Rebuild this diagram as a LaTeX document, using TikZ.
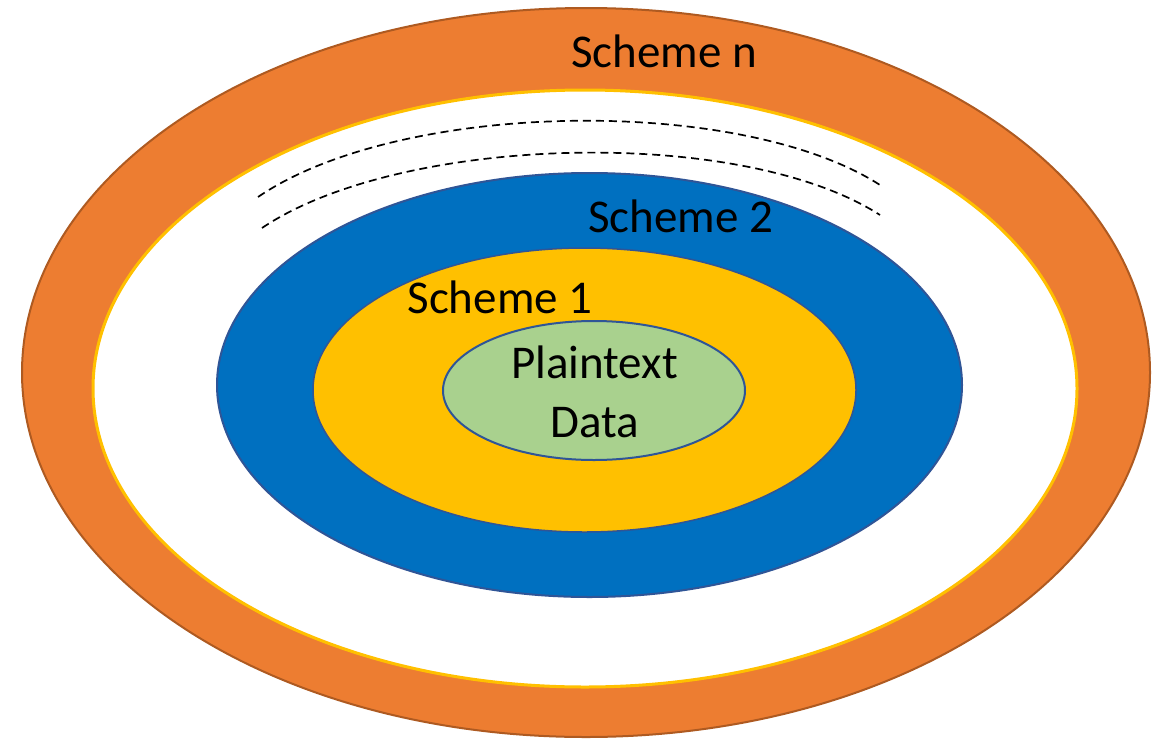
\documentclass[tikz,border=0pt]{standalone}
\usepackage{fontspec}
\setmainfont{Carlito}
\definecolor{ringorange}{HTML}{ED7D31}
\definecolor{ringedge}{HTML}{AE5A21}
\definecolor{ringgold}{HTML}{FFC000}
\definecolor{ringblue}{HTML}{0070C0}
\definecolor{ringnavy}{HTML}{2F5597}
\definecolor{ringgreen}{HTML}{A9D18E}
\begin{document}
\begin{tikzpicture}[x=1pt,y=-1pt]
\tikzstyle{every node}+=[inner sep=0pt, font=\fontsize{47}{59}\selectfont]
\tikzstyle{ringtext}=[anchor=base, text=black]
\tikzstyle{layer}=[dashed, dash pattern=on 8pt off 5pt, line width=1.7pt]
\useasboundingbox (0,0) rectangle (1153,739);
\draw [ringedge, fill=ringorange, line width=2pt] (586,372.5) ellipse (564pt and 364.5pt);
\draw [ringgold, fill=white, line width=3pt] (585,388.5) ellipse (492pt and 298.5pt);
\draw [layer] (258,197) .. controls (400,100) and (740,95) .. (880,185);
\draw [layer] (262,228) .. controls (400,135) and (740,125) .. (880,215);
\draw [ringnavy, fill=ringblue, line width=2pt] (589.5,385) ellipse (372.5pt and 212pt);
\draw [ringnavy, fill=ringgold, line width=1.5pt] (584.5,390) ellipse (271.5pt and 142pt);
\draw [ringnavy, fill=ringgreen, line width=2pt] (594,390.5) ellipse (151pt and 69.5pt);
\node [ringtext] (schemen) at (664,67) {Scheme n};
\node [ringtext] (scheme2) at (680.5,232) {Scheme 2};
\node [ringtext] (scheme1) at (500,313) {Scheme 1};
\node [ringtext] (plaintext) at (594.5,378) {Plaintext};
\node [ringtext] (data) at (595,437) {Data};
\end{tikzpicture}
\end{document}
